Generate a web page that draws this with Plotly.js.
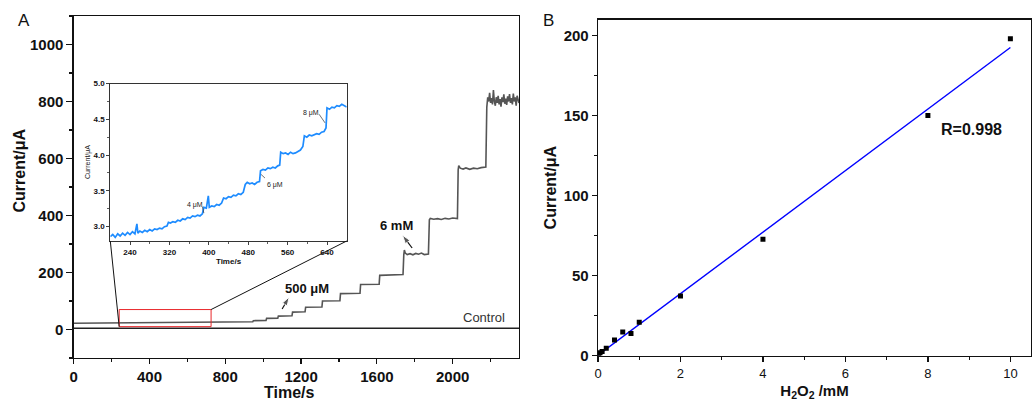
<!DOCTYPE html>
<html><head><meta charset="utf-8">
<script src="https://cdn.plot.ly/plotly-3.0.1.min.js"></script>
<style>html,body{margin:0;padding:0;background:#fff}#chart{width:1032px;height:401px}</style>
</head><body><div id="chart"></div>
<script>
// ---- Panel A: main amperometric i-t curve ----
const mainT = [0,100,200,300,400,500,600,700,800,900,945,948,1015,1018,1077,1080,1152,1155,1221,1224,1310,1313,1405,1408,1511,1514,1612,1615,1660,1700,1738,1742,1745,1750,1760,1775,1790,1805,1820,1835,1850,1872,1877,1882,1900,1920,1940,1960,1980,2000,2025,2029,2032,2040,2055,2070,2090,2110,2130,2150,2175,2180,2185,2190,2195,2200,2205,2210,2215,2220,2225,2230,2235,2240,2245,2250,2255,2260,2265,2270,2275,2280,2285,2290,2295,2300,2305,2310,2315,2320,2325,2330,2335,2340,2345,2350];
const mainI = [22,22.5,22,23,23,24,24,25,25,26,27,31,32,39,40,47,48,61,62,78,79,100,101,126,127,158,159,190,191,190,193,262,279,268,263,266,262,267,264,268,263,265,385,390,387,389,386,390,388,391,389,560,575,566,563,567,562,566,564,568,570,780,815,800,830,795,812,790,840,800,785,815,795,820,790,808,782,815,798,825,792,810,788,818,800,826,795,812,790,828,800,815,785,820,806,795];
const controlT = [0,600,1200,1800,2350];
const controlI = [4,4,4,4,4];
// ---- Inset (zoom of 200-680 s) ----
const insetT = [200,205,210,215,220,225,230,235,240,245,250,254,256,260,265,270,275,280,285,290,295,300,305,310,315,318,322,327,332,337,342,347,352,357,362,367,372,377,382,387,390,395,399,401,406,411,416,421,426,430,435,440,445,450,455,460,465,470,474,478,483,488,493,498,503,505,510,515,520,525,530,535,540,544,546,551,556,561,566,571,576,581,586,591,594,599,604,609,614,619,624,629,634,638,640,645,650,655,660,665,670,675,680];
const insetI = [2.86,2.89,2.85,2.90,2.87,2.91,2.88,2.92,2.89,2.93,2.90,3.04,2.91,2.94,2.92,2.95,2.93,2.96,2.94,2.97,2.96,2.98,2.97,3.00,3.01,3.06,3.05,3.07,3.06,3.09,3.08,3.11,3.10,3.13,3.12,3.15,3.14,3.16,3.15,3.18,3.27,3.26,3.43,3.27,3.29,3.28,3.31,3.30,3.33,3.40,3.39,3.42,3.41,3.44,3.43,3.46,3.45,3.48,3.59,3.62,3.60,3.61,3.59,3.62,3.63,3.78,3.80,3.79,3.82,3.81,3.83,3.82,3.85,3.86,4.04,4.02,4.03,4.01,4.04,4.02,4.03,4.05,4.07,4.12,4.27,4.25,4.28,4.27,4.29,4.30,4.29,4.32,4.33,4.38,4.66,4.64,4.67,4.66,4.69,4.68,4.71,4.69,4.67];
// ---- Panel B: calibration ----
const concB = [0.02,0.05,0.1,0.2,0.4,0.6,0.8,1,2,4,8,10];
const currB = [1.2,1.8,2.6,4.6,9.8,14.8,13.8,20.9,37.3,72.8,150,197.9];
const fitX = [0,10];
const fitY = [0.3,192.5];
// marked region and pointer arrows (tail -> head)
const boxT = [240,725];
const boxI = [10,70];
const arrow500T = [1100,1137], arrow500I = [72,114];
const arrow6mT = [1786,1735], arrow6mI = [286,331];

const FONT = 'Liberation Sans, Arial, sans-serif';
const W = 1032, H = 401;
const px = v => v / W, py = v => (H - v) / H;

const domA_x = [px(73.7), px(519)], domA_y = [py(358), py(16)];
const domI_x = [px(110.3), px(346.7)], domI_y = [py(241), py(83.5)];
const domB_x = [px(598), px(1031)], domB_y = [py(355.7), py(19.5)];
const rA_x = [0, 2350], rA_y = [-100, 1100];

const arrowTrace = (xs, ys) => ({x: xs, y: ys, type: 'scatter', mode: 'lines+markers', line: {color: '#111', width: 1.2},
  marker: {symbol: 'arrow', angleref: 'previous', size: [0, 9], color: '#111'}, xaxis: 'x', yaxis: 'y', hoverinfo: 'skip'});

const traces = [
  {x: controlT, y: controlI, type: 'scatter', mode: 'lines', line: {color: '#222', width: 1.5}, xaxis: 'x', yaxis: 'y', hoverinfo: 'skip'},
  {x: mainT, y: mainI, type: 'scatter', mode: 'lines', line: {color: '#555', width: 1.6}, xaxis: 'x', yaxis: 'y', hoverinfo: 'skip'},
  arrowTrace(arrow500T, arrow500I),
  arrowTrace(arrow6mT, arrow6mI),
  {x: insetT, y: insetI, type: 'scatter', mode: 'lines', line: {color: '#1e8cff', width: 1.7}, xaxis: 'x2', yaxis: 'y2', hoverinfo: 'skip'},
  {x: fitX, y: fitY, type: 'scatter', mode: 'lines', line: {color: '#0000ff', width: 1.4}, xaxis: 'x3', yaxis: 'y3', hoverinfo: 'skip'},
  {x: concB, y: currB, type: 'scatter', mode: 'markers', marker: {symbol: 'square', size: 5, color: '#000'}, xaxis: 'x3', yaxis: 'y3', hoverinfo: 'skip'}
];

const axBase = {showgrid: false, zeroline: false, showline: true, mirror: true, linecolor: '#111', linewidth: 1.3, ticks: 'outside', tickcolor: '#111', tickwidth: 1.2, fixedrange: true};

const toPX = t => domA_x[0] + (t - rA_x[0]) / (rA_x[1] - rA_x[0]) * (domA_x[1] - domA_x[0]);
const toPY = v => domA_y[0] + (v - rA_y[0]) / (rA_y[1] - rA_y[0]) * (domA_y[1] - domA_y[0]);

const ann = (text, x, y, font, extra) => Object.assign({text: text, xref: 'paper', yref: 'paper', x: x, y: y, xanchor: 'center', yanchor: 'middle', showarrow: false,
  font: Object.assign({family: FONT, color: '#111'}, font)}, extra || {});

const layout = {
  width: W, height: H, margin: {l: 0, r: 0, t: 0, b: 0},
  paper_bgcolor: '#fff', plot_bgcolor: 'rgba(0,0,0,0)', showlegend: false,
  font: {family: FONT, color: '#111'},
  xaxis: Object.assign({}, axBase, {domain: domA_x, range: rA_x, anchor: 'y', tickvals: [0,400,800,1200,1600,2000], ticklen: 5,
    minor: {tickvals: [200,600,1000,1400,1800,2200], ticklen: 3, ticks: 'outside', tickcolor: '#111'},
    tickfont: {size: 15, weight: 700, family: FONT}}),
  yaxis: Object.assign({}, axBase, {domain: domA_y, range: rA_y, anchor: 'x', tickvals: [0,200,400,600,800,1000], ticklen: 6, ticksuffix: '\u2009\u2009',
    minor: {tickvals: [-100,100,300,500,700,900,1100], ticklen: 3, ticks: 'outside', tickcolor: '#111'},
    tickfont: {size: 15, weight: 700, family: FONT}}),
  xaxis2: Object.assign({}, axBase, {domain: domI_x, range: [200, 680], anchor: 'y2', tickvals: [240,320,400,480,560,640], ticklen: 3, linewidth: 1, tickwidth: 0.8, linecolor: '#333',
    minor: {tickvals: [280,360,440,520,600], ticklen: 2, ticks: 'outside', tickcolor: '#333'},
    tickfont: {size: 8, weight: 700, family: FONT},
    title: {text: 'Time/s', font: {size: 8, weight: 700, family: FONT}, standoff: 0}}),
  yaxis2: Object.assign({}, axBase, {domain: domI_y, range: [2.8, 5.0], anchor: 'x2', tickvals: [3.0,3.5,4.0,4.5,5.0], ticktext: ['3.0','3.5','4.0','4.5','5.0'], ticklen: 3, linewidth: 1, tickwidth: 0.8, linecolor: '#333',
    minor: {tickvals: [3.25,3.75,4.25,4.75], ticklen: 2, ticks: 'outside', tickcolor: '#333'},
    tickfont: {size: 8, weight: 700, family: FONT}}),
  xaxis3: Object.assign({}, axBase, {domain: domB_x, range: [0, 10.5], anchor: 'y3', tickvals: [0,2,4,6,8,10], ticklen: 5,
    minor: {tickvals: [1,3,5,7,9], ticklen: 3, ticks: 'outside', tickcolor: '#111'},
    tickfont: {size: 13, family: FONT},
    title: {text: 'H<sub>2</sub>O<sub>2</sub> /mM', font: {size: 15, weight: 700, family: FONT}, standoff: 6}}),
  yaxis3: Object.assign({}, axBase, {domain: domB_y, range: [0, 210], anchor: 'x3', tickvals: [0,50,100,150,200], ticklen: 5,
    minor: {tickvals: [25,75,125,175], ticklen: 3, ticks: 'outside', tickcolor: '#111'},
    tickfont: {size: 15, weight: 700, family: FONT},
    title: {text: 'Current/μA', font: {size: 16, weight: 700, family: FONT}, standoff: 3}}),
  shapes: [
    {type: 'rect', xref: 'x', yref: 'y', x0: boxT[0], x1: boxT[1], y0: boxI[0], y1: boxI[1], line: {color: '#e8262a', width: 1}},
    {type: 'line', xref: 'paper', yref: 'paper', x0: toPX(boxT[0]), y0: toPY(boxI[0]), x1: domI_x[0], y1: domI_y[0], line: {color: '#111', width: 1}},
    {type: 'line', xref: 'paper', yref: 'paper', x0: toPX(boxT[1]), y0: toPY(boxI[1]), x1: domI_x[1], y1: domI_y[0], line: {color: '#111', width: 1}},
    // leader lines of inset labels
    {type: 'line', xref: 'x2', yref: 'y2', x0: 387, y0: 3.28, x1: 390, y1: 3.19, line: {color: '#333', width: 0.7}},
    {type: 'line', xref: 'x2', yref: 'y2', x0: 514, y0: 3.68, x1: 506, y1: 3.73, line: {color: '#333', width: 0.7}},
    {type: 'line', xref: 'x2', yref: 'y2', x0: 624, y0: 4.57, x1: 636, y1: 4.45, line: {color: '#333', width: 0.7}}
  ],
  annotations: [
    ann('A', px(23.5), py(21), {size: 17}),
    ann('B', px(548.5), py(20.5), {size: 17}),
    ann('Current/μA', px(18.5), py(171), {size: 16, weight: 700}, {textangle: -90}),
    ann('Time/s', px(289), py(392), {size: 16, weight: 700}),
    ann('Current/μA', px(88), py(162), {size: 7, color: '#222'}, {textangle: -90}),
    {text: '500 μM', xref: 'x', yref: 'y', x: 1230, y: 144, xanchor: 'center', yanchor: 'middle', showarrow: false, font: {size: 13, weight: 700, family: FONT, color: '#111'}},
    {text: '6 mM', xref: 'x', yref: 'y', x: 1704, y: 366, xanchor: 'center', yanchor: 'middle', showarrow: false, font: {size: 13, weight: 700, family: FONT, color: '#111'}},
    {text: 'Control', xref: 'x', yref: 'y', x: 2163, y: 42, xanchor: 'center', yanchor: 'middle', showarrow: false, font: {size: 13, family: FONT, color: '#333'}},
    {text: '4 μM', xref: 'x2', yref: 'y2', x: 371, y: 3.30, xanchor: 'center', yanchor: 'middle', showarrow: false, font: {size: 7, family: FONT, color: '#222'}},
    {text: '6 μM', xref: 'x2', yref: 'y2', x: 534, y: 3.585, xanchor: 'center', yanchor: 'middle', showarrow: false, font: {size: 7, family: FONT, color: '#222'}},
    {text: '8 μM', xref: 'x2', yref: 'y2', x: 607, y: 4.59, xanchor: 'center', yanchor: 'middle', showarrow: false, font: {size: 7, family: FONT, color: '#222'}},
    {text: 'R=0.998', xref: 'x3', yref: 'y3', x: 9.05, y: 141, xanchor: 'center', yanchor: 'middle', showarrow: false, font: {size: 16, weight: 700, family: FONT, color: '#111'}}
  ]
};

Plotly.newPlot('chart', traces, layout, {displayModeBar: false, staticPlot: true});
</script></body></html>
